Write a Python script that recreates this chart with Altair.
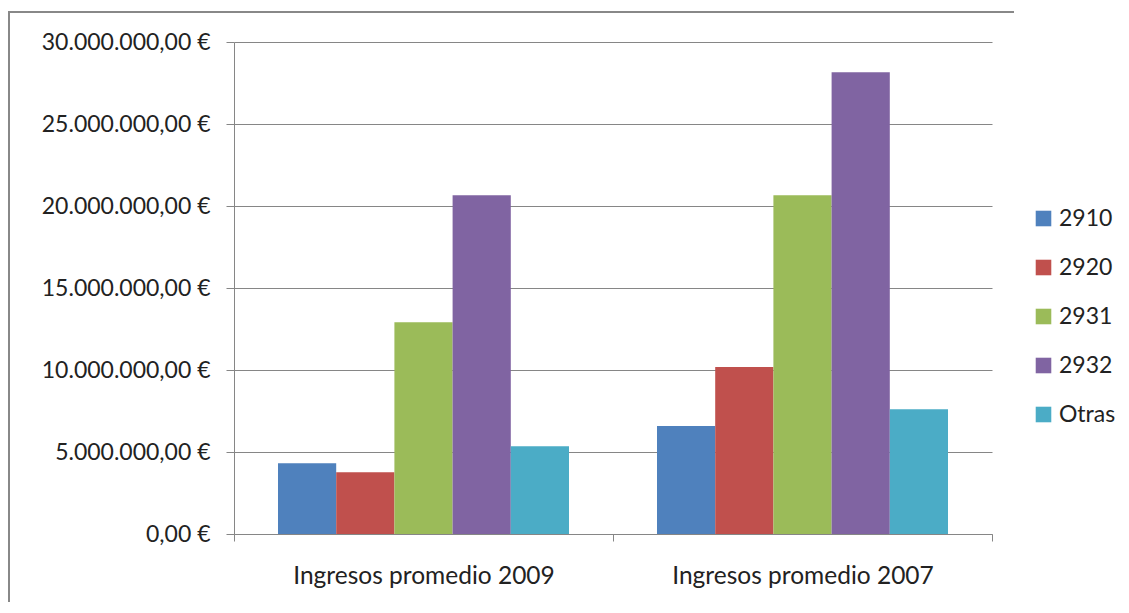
import altair as alt
import pandas as pd

groups = ["Ingresos promedio 2009", "Ingresos promedio 2007"]
series = ["2910", "2920", "2931", "2932", "Otras"]
values_2009 = [4310000, 3760000, 12910000, 20650000, 5350000]
values_2007 = [6590000, 10180000, 20650000, 28150000, 7600000]
colors = ["#4F81BD", "#C0504D", "#9BBB59", "#8064A2", "#4BACC6"]
y_ticks = [0, 5000000, 10000000, 15000000, 20000000, 25000000, 30000000]

rows = []
for g, vals in zip(groups, [values_2009, values_2007]):
    for s, v in zip(series, vals):
        rows.append({"group": g, "series": s, "value": v})
df = pd.DataFrame(rows)

FONT = "Lato"
FS = 23
GRAY = "#868686"
TXT = "#222222"

bars = alt.Chart(df).mark_bar().encode(
    x=alt.X("group:N", sort=groups,
            scale=alt.Scale(paddingInner=0, paddingOuter=0),
            axis=alt.Axis(title=None, labelAngle=0, tickBand="extent",
                          tickSize=7, labelPadding=23, grid=False,
                          labelLimit=0,
                          labelFontSize=24.5, labelFont=FONT, labelColor=TXT,
                          domainColor=GRAY, tickColor=GRAY)),
    xOffset=alt.XOffset("series:N", sort=series,
                        scale=alt.Scale(paddingInner=0, paddingOuter=0.756)),
    y=alt.Y("value:Q", scale=alt.Scale(domain=[0, 30000000], nice=False),
            axis=alt.Axis(title=None, values=y_ticks, format="$,.2f",
                          tickSize=8, labelPadding=16, grid=True,
                          gridColor=GRAY, domainColor=GRAY, tickColor=GRAY,
                          labelFontSize=FS, labelFont=FONT, labelColor=TXT)),
    color=alt.Color("series:N", sort=series,
                    scale=alt.Scale(domain=series, range=colors),
                    legend=alt.Legend(title=None, orient="none",
                                      legendX=798, legendY=165,
                                      symbolType="square", symbolSize=243,
                                      symbolStrokeWidth=0, labelOffset=4,
                                      labelFontSize=FS, labelFont=FONT,
                                      labelColor=TXT, rowPadding=25)),
)

frame_df = pd.DataFrame({"k": [0]})
frame_v = alt.Chart(frame_df).mark_rect(color="#888888", strokeWidth=0).encode(
    x=alt.value(-226), x2=alt.value(-224), y=alt.value(-31), y2=alt.value(560))
frame_h = alt.Chart(frame_df).mark_rect(color="#888888", strokeWidth=0).encode(
    x=alt.value(-226), x2=alt.value(780), y=alt.value(-31), y2=alt.value(-29))

chart = alt.layer(bars, frame_v, frame_h).properties(
    width=758, height=492,
    autosize=alt.AutoSizeParams(type="none"),
    padding={"left": 226, "top": 34, "right": 129, "bottom": 71},
    background="white",
).configure_view(stroke=None)

chart.save("out.html", embed_options={
    "renderer": "svg", "actions": False,
    "formatLocale": {"decimal": ",", "thousands": ".", "grouping": [3],
                     "currency": ["", " €"]},
})
